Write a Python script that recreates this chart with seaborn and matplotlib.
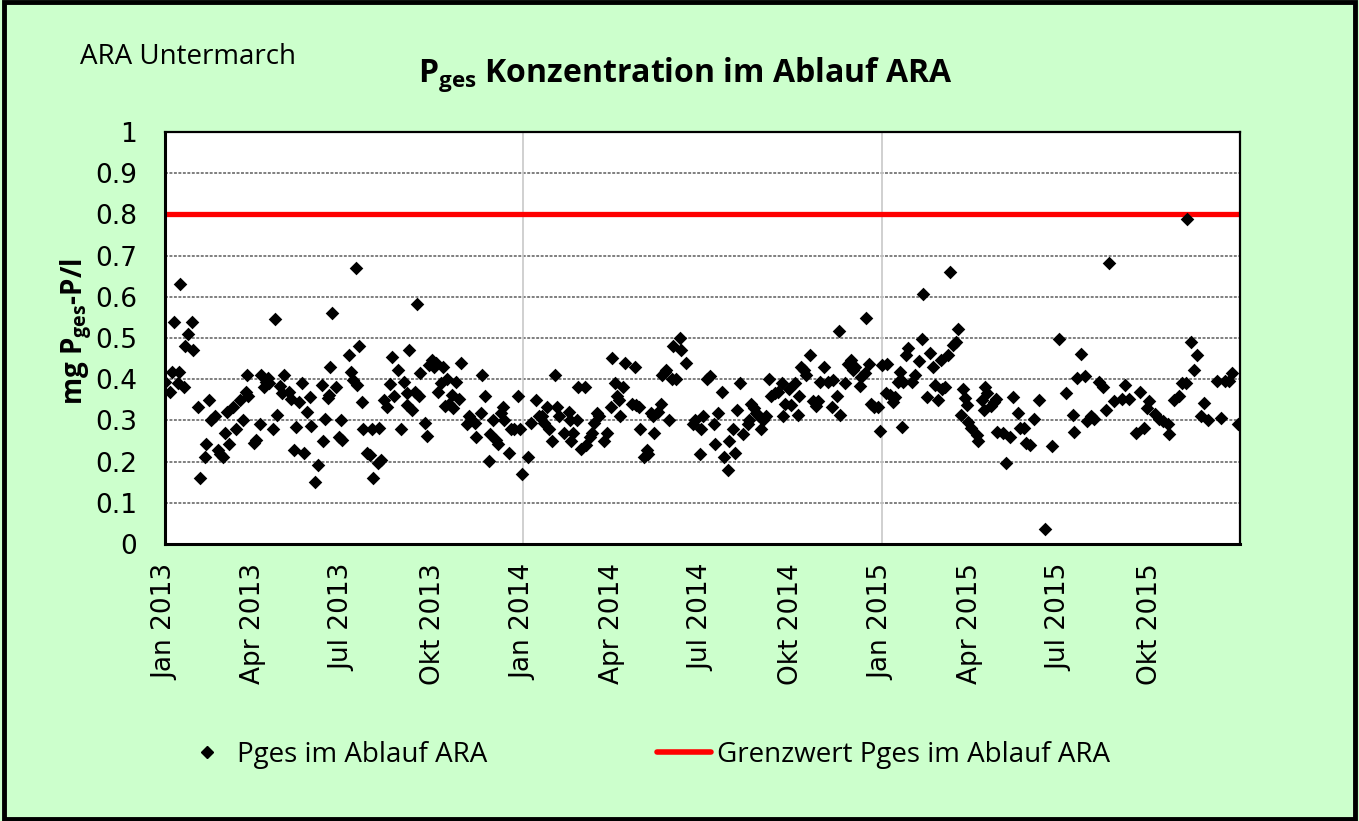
import numpy as np
import pandas as pd
import matplotlib
matplotlib.use("Agg")
import matplotlib.pyplot as plt
import seaborn as sns
from matplotlib.patches import Rectangle
from matplotlib.lines import Line2D

# ---------------- data ----------------
start_date = "2013-01-01"
end_date = "2016-01-01"
days_since_start = [
    0, 5, 7, 9, 13, 14, 15, 19, 20, 23, 27, 29, 34, 36, 41, 42, 45, 47, 51, 54, 56, 59, 61, 63, 65, 69, 72, 76, 79, 82,
    84, 85, 91, 93, 97, 98, 101, 103, 105, 106, 110, 112, 114, 117, 119, 121, 126, 128, 131, 133, 136, 140, 142, 145,
    148, 149, 153, 156, 160, 161, 163, 166, 167, 168, 170, 174, 177, 179, 180,
    187, 189, 192, 195, 196, 198, 201, 202, 206, 209, 211, 212, 217, 218, 220, 223, 226, 229, 231, 233, 237, 240, 243,
    246, 247, 249, 252, 255, 257, 259, 260, 265, 267, 269, 272, 274, 276, 278, 281, 283, 285, 287, 289, 292, 293, 296,
    299, 301, 308, 310, 312, 316, 317, 322, 323, 326, 330, 331, 334, 337, 339, 342, 344, 345, 350, 352, 355, 360, 362, 364,
    370, 373, 378, 381, 384, 386, 389, 391, 394, 397, 399, 401, 406, 412, 413, 414, 416, 420, 421, 424, 428, 429, 433,
    435, 437, 440, 442, 447, 450, 454, 455, 458, 460, 462, 463, 467, 469, 476, 479, 480, 483, 484, 488, 491, 492, 495,
    497, 498, 502, 505, 506, 509, 510, 513, 516, 517, 521, 525, 526, 531, 538, 540, 545, 546, 548,
    552, 555, 559, 560, 563, 567, 569, 573, 574, 579, 581, 583, 586, 589, 594, 595, 597, 600, 602, 605, 607, 609, 612,
    615, 617, 621, 624, 628, 630, 632, 636, 638, 642, 645, 646, 648, 651, 653, 657, 660, 663, 665, 667, 671, 675, 679,
    680, 684, 687, 688, 693, 696, 699, 701, 703, 708, 709, 713, 714, 717, 719, 722, 726, 728, 730,
    734, 735, 738, 742, 744, 747, 749, 751, 752, 755, 757, 761, 764, 768, 771, 772, 776, 779, 782, 784, 787, 790, 791,
    795, 798, 800, 803, 806, 808, 811, 813, 815, 817, 818, 821, 827, 828, 832, 834, 835, 837, 841, 844, 846, 847, 854,
    857, 861, 864, 869, 871, 875, 877, 881, 885, 890, 896, 904, 911, 918,
    925, 926, 929, 933, 937, 939, 943, 946, 951, 955, 959, 962, 967, 975, 978, 982, 989, 993, 997, 1000, 1002, 1008,
    1013, 1017, 1022, 1023, 1028, 1033, 1036, 1040, 1041, 1045, 1048, 1051, 1055, 1058, 1062, 1072, 1076, 1080, 1084,
    1087, 1093,
]
p_ges = [
    0.392, 0.368, 0.418, 0.540, 0.39, 0.418, 0.631, 0.382, 0.48, 0.509, 0.540, 0.472, 0.332, 0.159, 0.21, 0.242, 0.35,
    0.30, 0.311, 0.228, 0.218, 0.212, 0.27, 0.32, 0.243, 0.333, 0.278, 0.35, 0.30, 0.37,
    0.409, 0.36, 0.244, 0.252, 0.291, 0.409, 0.382, 0.394, 0.402, 0.39, 0.278, 0.546, 0.313, 0.383, 0.367, 0.409, 0.37,
    0.352, 0.227, 0.285, 0.345, 0.39, 0.222, 0.321,
    0.358, 0.287, 0.151, 0.192, 0.386, 0.25, 0.303, 0.354, 0.362, 0.430, 0.56, 0.38, 0.26, 0.30, 0.252,
    0.459, 0.417, 0.398, 0.671, 0.386, 0.48, 0.344, 0.278, 0.22, 0.216, 0.278, 0.159, 0.196, 0.281, 0.204, 0.35, 0.333,
    0.388, 0.453, 0.36, 0.422, 0.278, 0.392,
    0.367, 0.337, 0.472, 0.325, 0.37, 0.583, 0.36, 0.416, 0.294, 0.263, 0.434, 0.447, 0.429, 0.44, 0.368, 0.39, 0.43,
    0.335, 0.40, 0.341, 0.362, 0.329, 0.392,
    0.351, 0.44, 0.291, 0.311, 0.30, 0.293, 0.259, 0.319, 0.409, 0.36, 0.202, 0.267, 0.301, 0.252, 0.243, 0.317, 0.333,
    0.301, 0.22, 0.278, 0.278, 0.36, 0.278, 0.17,
    0.21, 0.293, 0.35, 0.311, 0.311, 0.293, 0.333, 0.278, 0.25, 0.409, 0.333, 0.311, 0.27, 0.32, 0.301, 0.25, 0.27,
    0.301, 0.382, 0.23, 0.382, 0.24, 0.26,
    0.269, 0.294, 0.317, 0.311, 0.25, 0.27, 0.332, 0.451, 0.39, 0.36, 0.35, 0.311, 0.382, 0.44, 0.341, 0.43, 0.337,
    0.332, 0.278, 0.21, 0.228, 0.218, 0.317,
    0.311, 0.27, 0.32, 0.341, 0.409, 0.418, 0.422, 0.301, 0.40, 0.48, 0.40, 0.499, 0.471, 0.44, 0.291, 0.301, 0.218,
    0.278, 0.311,
    0.40, 0.408, 0.291, 0.242, 0.319, 0.368, 0.21, 0.18, 0.25, 0.278, 0.22, 0.325, 0.39, 0.267, 0.291, 0.301, 0.341,
    0.329, 0.317, 0.311, 0.278, 0.301, 0.311,
    0.40, 0.36, 0.366, 0.37, 0.39, 0.311, 0.341, 0.375, 0.337, 0.39, 0.313, 0.36, 0.43, 0.422, 0.41, 0.459, 0.348,
    0.335, 0.348, 0.394, 0.429, 0.394, 0.333,
    0.398, 0.36, 0.518, 0.313, 0.39, 0.438, 0.447, 0.422, 0.429, 0.383, 0.406, 0.416, 0.549, 0.436, 0.34, 0.333, 0.332,
    0.275, 0.434,
    0.367, 0.437, 0.362, 0.345, 0.358, 0.392, 0.418, 0.285, 0.392, 0.459, 0.475, 0.392, 0.41, 0.445, 0.498, 0.608,
    0.358, 0.463, 0.43, 0.386, 0.35, 0.447, 0.375,
    0.382, 0.459, 0.661, 0.483, 0.491, 0.523, 0.313, 0.376, 0.354, 0.337, 0.297, 0.281, 0.265, 0.25, 0.35, 0.325,
    0.382, 0.366, 0.336, 0.345, 0.351, 0.273, 0.27,
    0.197, 0.26, 0.358, 0.317, 0.281, 0.281, 0.246, 0.24, 0.303, 0.35, 0.036, 0.238, 0.497, 0.367,
    0.314, 0.272, 0.403, 0.46, 0.407, 0.299, 0.31, 0.303, 0.393, 0.38, 0.326, 0.682, 0.346, 0.353, 0.387, 0.353, 0.269,
    0.368, 0.281, 0.33, 0.346, 0.316,
    0.304, 0.298, 0.292, 0.267, 0.35, 0.36, 0.391, 0.391, 0.788, 0.49, 0.422, 0.459, 0.311, 0.342, 0.3, 0.395, 0.306,
    0.395, 0.395,
    0.415, 0.292,
]
grenzwert = 0.8
year_gridlines = ["2014-01-01", "2015-01-01"]
tick_labels = ["Jan 2013", "Apr 2013", "Jul 2013", "Okt 2013",
               "Jan 2014", "Apr 2014", "Jul 2014", "Okt 2014",
               "Jan 2015", "Apr 2015", "Jul 2015", "Okt 2015"]
y_ticks = [0, 0.1, 0.2, 0.3, 0.4, 0.5, 0.6, 0.7, 0.8, 0.9, 1]
y_tick_labels = ["0", "0.1", "0.2", "0.3", "0.4", "0.5", "0.6", "0.7", "0.8", "0.9", "1"]
series_label = "Pges im Ablauf ARA"
limit_label = "Grenzwert Pges im Ablauf ARA"

# ---------------- style ----------------
sns.set_theme(style="white")
plt.rcParams["font.family"] = ["DejaVu Sans"]
plt.rcParams["text.color"] = "black"
plt.rcParams["mathtext.fontset"] = "custom"
plt.rcParams["mathtext.rm"] = "Open Sans"
plt.rcParams["mathtext.bf"] = "Open Sans:bold"

BG = "#CCFFCC"
fig = plt.figure(figsize=(13.59, 8.21), dpi=100, facecolor=BG)
ax = fig.add_axes([165 / 1359, 1 - 544 / 821, (1240 - 165) / 1359, (544 - 132) / 821])
ax.set_facecolor("white")

df = pd.DataFrame({
    "Datum": pd.Timestamp(start_date) + pd.to_timedelta(days_since_start, unit="D"),
    "Pges": p_ges,
})

# grid
ax.set_axisbelow(True)
for yv in y_ticks[1:-1]:
    ax.axhline(yv, color="#7f7f7f", lw=1.4, ls=(0, (1.5, 0.8)), zorder=0)
for d in year_gridlines:
    ax.axvline(pd.Timestamp(d), color="#c8c8c8", lw=1.2, zorder=0)

# limit line
ax.axhline(grenzwert, color="#FF0000", lw=3.8, zorder=2)

# data points
sns.scatterplot(data=df, x="Datum", y="Pges", marker="D", color="black", s=48,
                linewidth=0, ax=ax, zorder=3, legend=False)

ax.set_xlim(pd.Timestamp(start_date), pd.Timestamp(end_date))
ax.set_ylim(0, 1)
tick_dates = pd.date_range(start_date, periods=len(tick_labels), freq="QS")
ax.set_xticks(tick_dates)
ax.set_xticklabels(tick_labels, rotation=90, fontsize=19, va="top", ha="center")
ax.set_yticks(y_ticks)
ax.set_yticklabels(y_tick_labels, fontsize=19)
ax.tick_params(axis="x", direction="out", length=7, width=1.5, pad=7, colors="black")
ax.tick_params(axis="y", direction="out", length=7, width=1.5, pad=13, colors="black")
ax.set_xlabel("")
ax.set_ylabel("")
for side, sp in ax.spines.items():
    sp.set_color("black")
    sp.set_linewidth(1.6 if side in ("top", "right") else 2.2)
    sp.set_visible(True)

# texts
fig.text(80 / 1359, 1 - 57 / 821, "ARA Untermarch", family="Open Sans", fontsize=20,
         ha="left", va="center", color="black")
fig.text(685 / 1359, 1 - 75 / 821, r"P$_{\mathbf{ges}}$ Konzentration im Ablauf ARA",
         family="Open Sans", fontweight="bold", fontsize=23, ha="center", va="center", color="black")
fig.text(76 / 1359, 1 - 332 / 821, r"mg P$_{\mathbf{ges}}$-P/l", family="Open Sans",
         fontweight="bold", fontsize=20, rotation=90, ha="center", va="center", color="black")

# legend
h1 = Line2D([], [], marker="D", ls="", color="black", markersize=6)
h2 = Line2D([], [], color="#FF0000", lw=4)
leg1 = fig.legend([h1], [series_label], loc="center left", bbox_to_anchor=(186 / 1359, 1 - 755 / 821),
                  frameon=False, prop={"family": "Open Sans", "size": 20}, handlelength=1.5,
                  handletextpad=0.33, borderaxespad=0, borderpad=0, labelcolor="black")
leg2 = fig.legend([h2], [limit_label], loc="center left", bbox_to_anchor=(657 / 1359, 1 - 755 / 821),
                  frameon=False, prop={"family": "Open Sans", "size": 20}, handlelength=1.94,
                  handletextpad=0.22, borderaxespad=0, borderpad=0, labelcolor="black")

# outer border
fig.patches.append(Rectangle((0.003, 0.003), 0.994, 0.994, transform=fig.transFigure,
                             fill=False, edgecolor="black", lw=3.5))

fig.savefig("out.png", dpi=100, facecolor=BG)
